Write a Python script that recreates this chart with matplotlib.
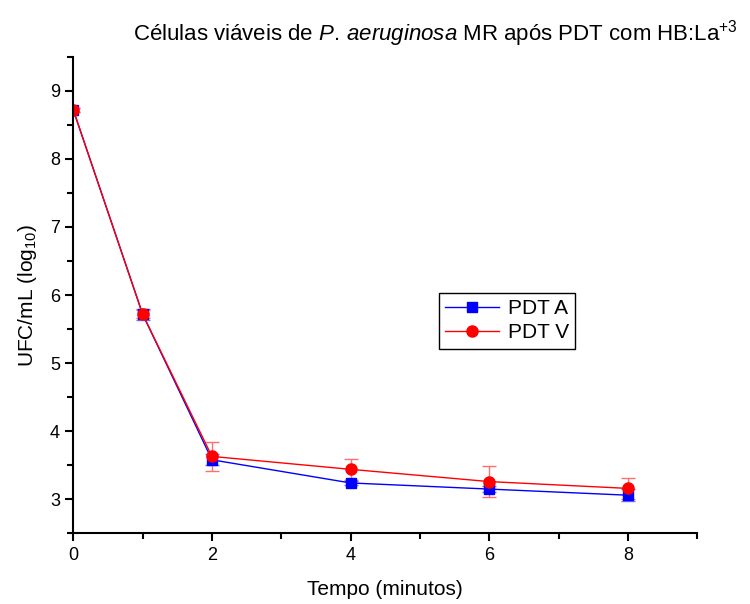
import matplotlib
matplotlib.use('Agg')
import matplotlib.pyplot as plt
from matplotlib.ticker import MultipleLocator

plt.rcParams['font.family'] = ['Liberation Sans', 'DejaVu Sans']
plt.rcParams['mathtext.fontset'] = 'custom'
plt.rcParams['mathtext.rm'] = 'Liberation Sans'
plt.rcParams['mathtext.it'] = 'Liberation Sans:italic'

# dados
tempo = [0, 1, 2, 4, 6, 8]
pdt_a = [8.72, 5.72, 3.58, 3.24, 3.15, 3.06]
pdt_a_err = [0.03, 0.08, 0.08, 0.03, 0.04, 0.09]
pdt_v = [8.72, 5.72, 3.63, 3.44, 3.26, 3.16]
pdt_v_err = [0.03, 0.06, 0.21, 0.15, 0.23, 0.16]

fig = plt.figure(figsize=(7.5, 6.04), dpi=100)
ax = fig.add_axes([0.0977, 0.117, 0.832, 0.789])

# barras de erro
ax.errorbar(tempo, pdt_a, yerr=pdt_a_err, fmt='none', elinewidth=1, capsize=5, ecolor='#6f6fff')
ax.errorbar(tempo, pdt_v, yerr=pdt_v_err, fmt='none', elinewidth=1, capsize=5, ecolor='#ff6f6f')
# curvas
ax.plot(tempo, pdt_a, color='#0000ff', marker='s', markersize=7, linewidth=1, label='PDT A')
ax.plot(tempo, pdt_v, color='#ff0000', marker='o', markersize=8, linewidth=1, label='PDT V')

ax.set_xlim(0, 9)
ax.set_ylim(2.5, 9.5)
ax.xaxis.set_minor_locator(MultipleLocator(1))
ax.yaxis.set_major_locator(MultipleLocator(1))
ax.yaxis.set_minor_locator(MultipleLocator(0.5))
ax.set_xticks([0, 2, 4, 6, 8])
for s in ['top', 'right']:
    ax.spines[s].set_visible(False)
for s in ['left', 'bottom']:
    ax.spines[s].set_linewidth(1.5)
ax.tick_params(which='major', direction='out', length=6, width=1.5, labelsize=13)
ax.tick_params(which='minor', direction='out', length=4, width=1.5)

ax.set_xlabel('Tempo (minutos)', fontsize=15, labelpad=12)
ax.set_ylabel('UFC/mL (log$_{10}$)', fontsize=15, labelpad=8)

fig.text(0.58, 0.945, 'Células viáveis de $\\it{P.\\,aeruginosa}$ MR após PDT com HB:La$^{+3}$',
         ha='center', va='center', fontsize=16)

leg = ax.legend(loc='center left', bbox_to_anchor=(0.586, 0.446), fontsize=15,
                fancybox=False, framealpha=1, edgecolor='black', borderpad=0.3,
                handlelength=2.6, handletextpad=0.4, labelspacing=0.25, borderaxespad=0)
leg.get_frame().set_linewidth(1)

fig.savefig('out.png', dpi=100)
